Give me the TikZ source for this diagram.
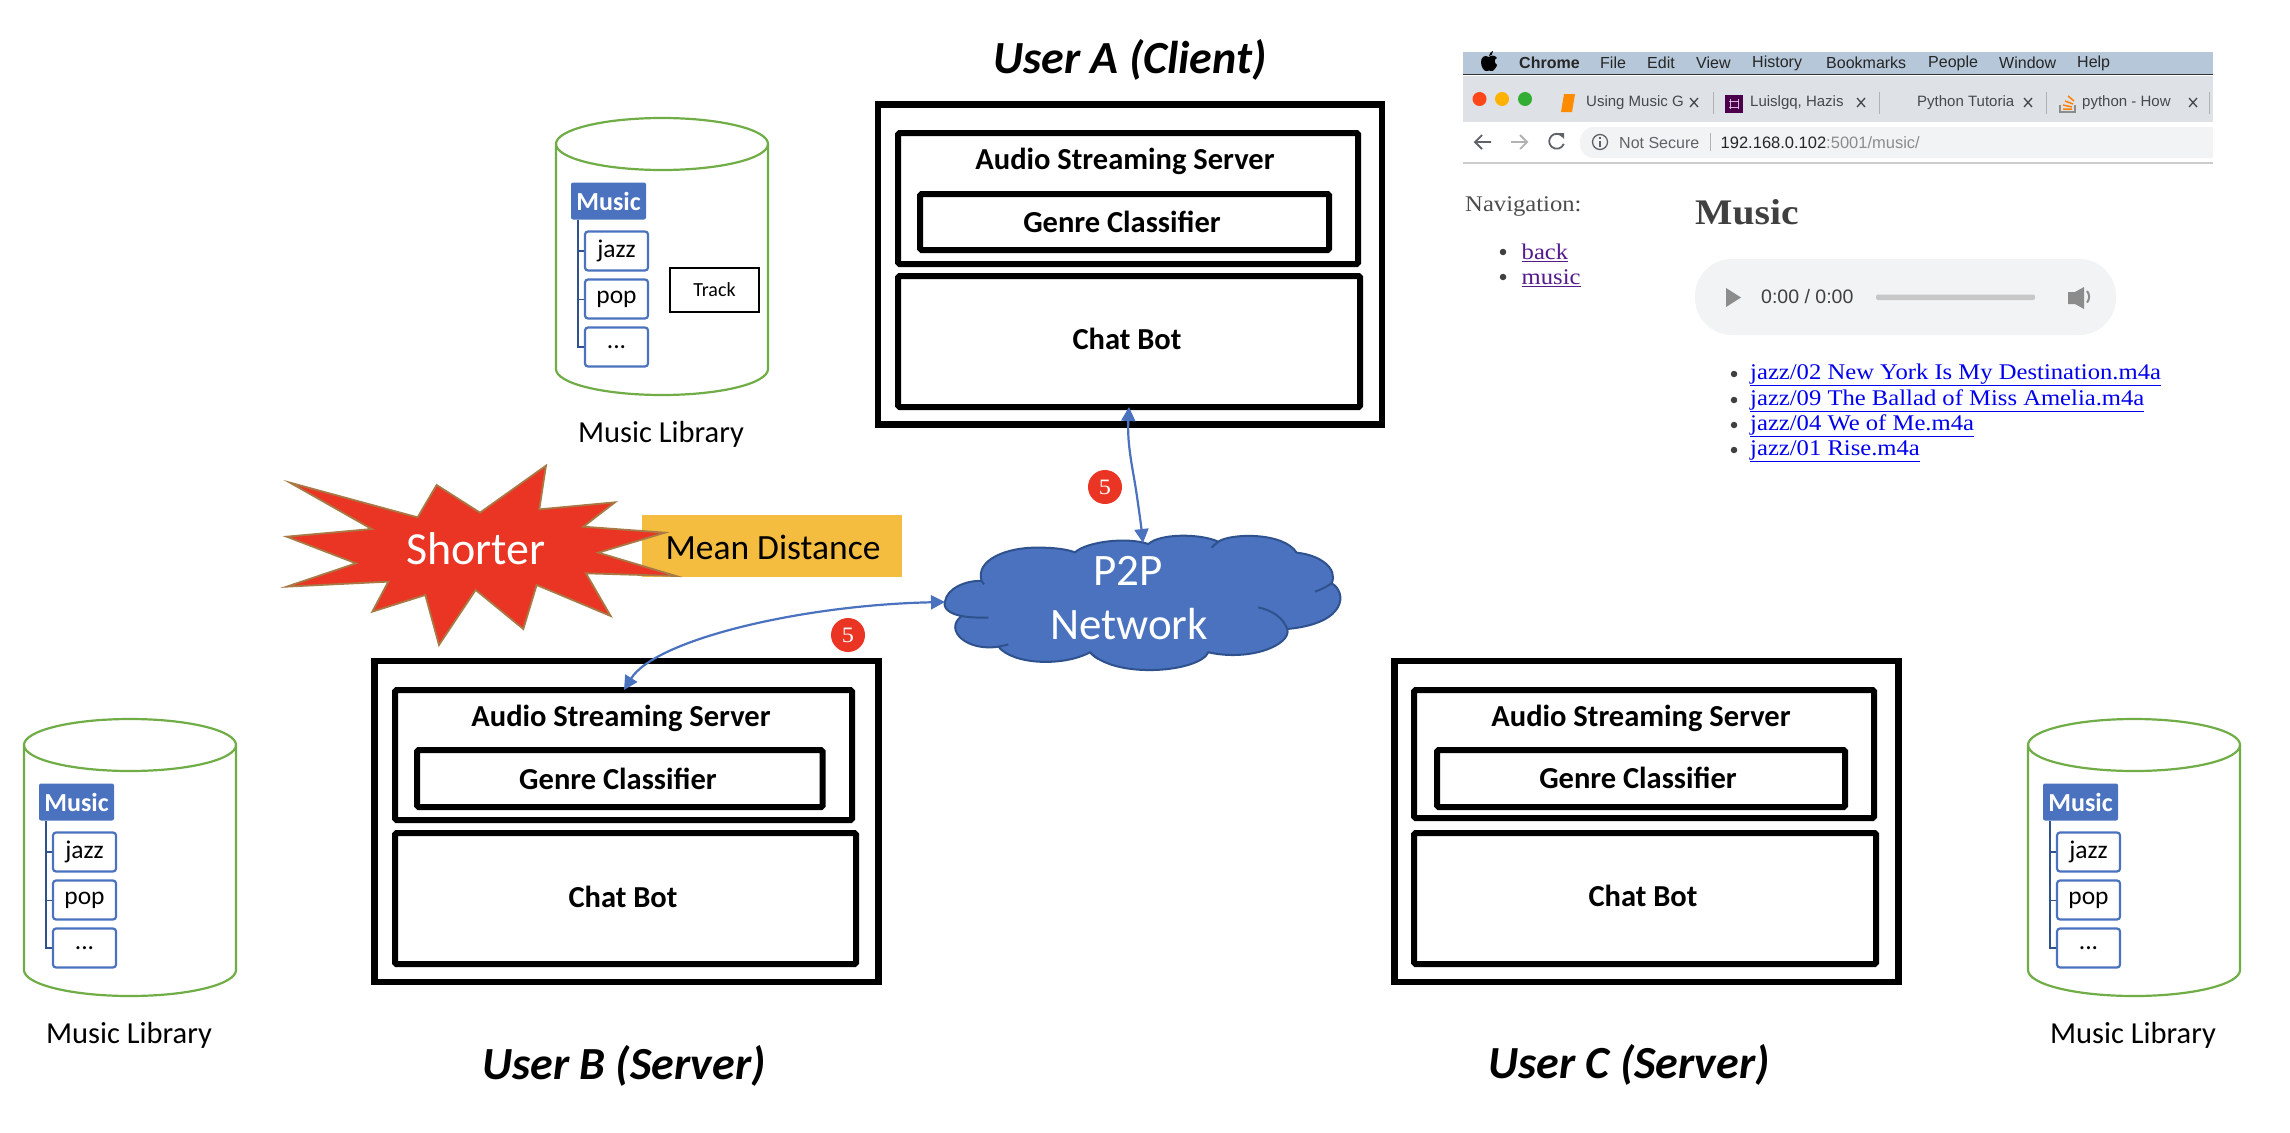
\documentclass[tikz,border=0pt]{standalone}
\usepackage{fontspec}
\setmainfont{Carlito}
\newfontfamily\ssf{Liberation Sans}
\newfontfamily\srf[FakeStretch=1.1]{Liberation Serif}
\usetikzlibrary{arrows.meta}
\newcommand{\fsz}[1]{\fontsize{#1}{#1}\selectfont}
\definecolor{ppblue}{HTML}{4A72BE}
\definecolor{ppedge}{HTML}{2F528F}
\definecolor{ppgreen}{HTML}{70AD47}
\definecolor{ppred}{HTML}{EA3524}
\definecolor{ppyellow}{HTML}{F4BD3F}
\definecolor{ppstar}{HTML}{A87845}
\definecolor{menubar}{HTML}{B5C7D8}
\definecolor{tabbar}{HTML}{DEE1E6}
\definecolor{pillgray}{HTML}{F1F3F4}
\definecolor{chromegray}{HTML}{5F6368}
\definecolor{tabtext}{HTML}{45484C}
\definecolor{visited}{HTML}{551A8B}
\definecolor{linkblue}{HTML}{0000EE}
\definecolor{ctrl}{HTML}{8C8C8C}
\tikzset{
  outerbox/.style={draw=black,line width=6.5pt,inner sep=0pt,fill=white},
  innerbox/.style={draw=black,line width=6pt,inner sep=0pt,rounded corners=1.5pt,fill=none},
  boxlabel/.style={font=\bfseries\fsz{30.5},inner sep=0pt},
  userlabel/.style={font=\bfseries\itshape\fsz{46},inner sep=0pt},
  treeitem/.style={draw=ppblue,line width=2.2pt,fill=white,rounded corners=3pt,inner sep=0pt,minimum width=63pt,minimum height=39pt,font=\fsz{25.5}},
  treeroot/.style={fill=ppblue,rounded corners=2pt,inner sep=0pt,minimum width=75pt,minimum height=37pt,text=white,font=\bfseries\fsz{26}},
  liblabel/.style={font=\fsz{30.5},inner sep=0pt},
  trunk/.style={draw=ppedge,line width=2pt},
  link/.style={draw=ppblue,line width=2.2pt,{Triangle[length=14pt,width=14pt]}-{Triangle[length=14pt,width=14pt]}},
  badge/.style={circle,fill=ppred,inner sep=0pt,minimum size=34pt,text=white,font=\srf\fsz{22}},
  menutext/.style={font=\ssf\fsz{16},inner sep=0pt,anchor=west,text=black!85},
  tabtxt/.style={font=\ssf\fsz{15},inner sep=0pt,anchor=west,text=tabtext},
  pagetext/.style={font=\srf\fsz{22.4},inner sep=0pt,anchor=west},
  closex/.style={draw=tabtext,line width=1.3pt},
  bulletdot/.style={circle,fill=black!75,inner sep=0pt,minimum size=6.5pt},
}
% style, name, x1,y1,x2,y2 (centre-line)
\newcommand{\pbox}[6]{\node[#1,minimum width={(#5-#3)*1pt},minimum height={(#6-#4)*1pt}] (#2) at ({(#3+#5)/2},{(#4+#6)/2}) {};}
\newcommand{\libcyl}[3]{%
\begin{scope}[shift={(#2,#3)}]
  \draw[ppgreen,line width=2.2pt] (0,26) -- (0,251) arc[start angle=180,end angle=360,x radius=106pt,y radius=26pt] -- (212,26);
  \draw[ppgreen,line width=2.2pt] (106,26) ellipse[x radius=106pt,y radius=26pt];
  \node[treeroot] (#1music) at (52.5,83) {Music};
  \node[treeitem] (#1jazz) at (60.5,133) {jazz};
  \node[treeitem] (#1pop) at (60.5,181) {pop};
  \node[treeitem] (#1dots) at (60.5,229) {...};
  \coordinate (#1trunk) at (22,102);
  \draw[trunk] (#1trunk) |- (#1dots.west);
  \draw[trunk] (#1trunk |- #1jazz.west) -- (#1jazz.west);
  \draw[trunk,line width=1pt] (#1trunk |- #1pop.west) -- (#1pop.west);
  \node[liblabel] (#1label) at (105,316) {Music Library};
\end{scope}}
\begin{document}
\begin{tikzpicture}[x=1pt,y=-1pt]
\useasboundingbox (0,0) rectangle (2290,1132);
\fill[white] (0,0) rectangle (2290,1132);

% ---------- User A
\node[userlabel] (ua) at (1130,60) {User A (Client)};
\pbox{outerbox}{aouter}{878}{104.5}{1382}{424.5}
\pbox{innerbox}{aaudio}{898}{133}{1358}{264}
\pbox{innerbox}{agenre}{920}{194}{1329}{250}
\pbox{innerbox}{achat}{898}{276}{1360}{407}
\node[boxlabel] (aaudiot) at (1125,161) {Audio Streaming Server};
\node[boxlabel] (agenret) at (1122,222) {Genre Classifier};
\node[boxlabel] (achatt) at (1127,339) {Chat Bot};

% ---------- User B
\node[userlabel] (ub) at (624,1066) {User B (Server)};
\pbox{outerbox}{bouter}{374.5}{661}{878.5}{982}
\pbox{innerbox}{baudio}{395}{690}{852}{820}
\pbox{innerbox}{bgenre}{417}{750}{822.5}{807}
\pbox{innerbox}{bchat}{395}{833}{856}{964}
\node[boxlabel] (baudiot) at (621,718.5) {Audio Streaming Server};
\node[boxlabel] (bgenret) at (618,779) {Genre Classifier};
\node[boxlabel] (bchatt) at (623,897) {Chat Bot};

% ---------- User C
\node[userlabel] (uc) at (1629,1065) {User C (Server)};
\pbox{outerbox}{couter}{1394.5}{661}{1898.5}{982}
\pbox{innerbox}{caudio}{1414}{690}{1874}{818}
\pbox{innerbox}{cgenre}{1437}{750}{1845}{807}
\pbox{innerbox}{cchat}{1414}{833}{1876}{964}
\node[boxlabel] (caudiot) at (1641,718) {Audio Streaming Server};
\node[boxlabel] (cgenret) at (1638,778) {Genre Classifier};
\node[boxlabel] (cchatt) at (1643,896) {Chat Bot};

% ---------- Libraries
\libcyl{top}{556}{118}
\libcyl{lft}{24}{719}
\libcyl{rgt}{2028}{719}
\node[draw=black,line width=2.2pt,minimum width=89pt,minimum height=44pt,inner sep=0pt,font=\fsz{20}] (track) at (714.5,290) {Track};

% ---------- Mean distance + star
\node[fill=ppyellow,minimum width=260pt,minimum height=62pt,inner sep=0pt] (mean) at (772,546) {};
\node[inner sep=0pt,font=\fsz{35.5}] (meant) at (773,547) {Mean Distance};
\begin{scope}[shift={(270,450)},x=.3333pt,y=-.3333pt]
\draw[fill=ppred,draw=ppstar,line width=1.8pt,line join=miter]
 (828,47)--(808,178)--(1035,157)--(940,230)--(1185,248)--(985,308)--(1218,378)--(948,370)--(1022,498)--(800,405)--(760,537)--(617,420)--(507,585)--(466,435)--(307,485)--(355,395)--(50,410)--(258,340)--(50,260)--(305,237)--(60,98)--(443,202)--(500,105)--(630,188)--cycle;
\end{scope}
\node[inner sep=0pt,text=white,font=\fsz{46}] (short) at (476,549) {Shorter};

% ---------- Cloud
\begin{scope}[shift={(930,520)},x=.3333pt,y=-.3333pt]
\draw[fill=ppblue,draw=ppedge,line width=2pt]
 (45,245) .. controls (50,205) and (110,180) .. (155,183)
 .. controls (135,120) and (230,80) .. (330,83)
 .. controls (375,83) and (410,88) .. (435,97)
 .. controls (470,65) and (590,50) .. (655,72)
 .. controls (690,40) and (810,40) .. (865,65)
 .. controls (900,40) and (1060,35) .. (1100,98)
 .. controls (1170,105) and (1225,145) .. (1205,190)
 .. controls (1250,215) and (1255,310) .. (1072,327)
 .. controls (1085,375) and (960,425) .. (835,397)
 .. controls (810,455) and (560,480) .. (480,397)
 .. controls (400,440) and (250,435) .. (205,380)
 .. controls (110,395) and (40,330) .. (95,288)
 .. controls (60,282) and (38,265) .. (45,245) -- cycle;
\draw[draw=ppedge,line width=2pt]
 (95,288) .. controls (120,293) and (150,293) .. (175,293)
 (205,380) .. controls (215,378) and (225,376) .. (235,373)
 (985,262) .. controls (1030,272) and (1060,295) .. (1072,327)
 (1155,215) .. controls (1175,208) and (1190,200) .. (1205,190)
 (845,83) .. controls (852,76) and (858,70) .. (865,65)
 (480,397) .. controls (487,405) and (495,411) .. (505,417)
 (155,183) .. controls (157,187) and (158,190) .. (162,193);
\end{scope}
\node[inner sep=0pt,text=white,font=\fsz{45}] (cloudA) at (1128,571) {P2P};
\node[inner sep=0pt,text=white,font=\fsz{45}] (cloudB) at (1129,624) {Network};
\coordinate (cloudtop) at (1143,543);
\coordinate (cloudleft) at (945,602);
\coordinate (achatbot) at (1129,407);
\coordinate (baudtop) at (624,690);

% ---------- Connectors
\draw[link] (achatbot) .. controls (1127,445) and (1133,470) .. (1136,490) .. controls (1139,510) and (1141,525) .. (cloudtop);
\draw[link] (baudtop) .. controls (655,640) and (800,605) .. (cloudleft);
\node[badge] (b5a) at (1105,487) {5};
\node[badge] (b5b) at (848,635) {5};

% ---------- Browser screenshot
\fill[menubar] (1463,52) rectangle (2213,74);
\draw[black!80,line width=1.2pt] (1463,74.5) -- (2213,74.5);
\fill[tabbar] (1463,76) rectangle (2213,122);
\fill[black] (1489,57) .. controls (1484,54) and (1481,58) .. (1481,62) .. controls (1481,67) and (1484,71) .. (1486,71) .. controls (1488,71) and (1490,70) .. (1492,71) .. controls (1494,71) and (1497,66) .. (1497,65) .. controls (1494,63) and (1494,59) .. (1497,58) .. controls (1495,55) and (1491,55) .. cycle;
\fill[black] (1489,56) .. controls (1489,53) and (1491,52) .. (1493,51) .. controls (1493,54) and (1491,56) .. (1489,56) -- cycle;
\node[menutext,font=\ssf\bfseries\fsz{16}] (mchrome) at (1519,63) {Chrome};
\node[menutext] (mfile) at (1600,63) {File};
\node[menutext] (medit) at (1647,63) {Edit};
\node[menutext] (mview) at (1696,63) {View};
\node[menutext] (mhist) at (1752,63) {History};
\node[menutext] (mbook) at (1826,63) {Bookmarks};
\node[menutext] (mpeop) at (1928,63) {People};
\node[menutext] (mwind) at (1999,63) {Window};
\node[menutext] (mhelp) at (2077,63) {Help};
% traffic lights
\fill[red!60!orange!90] (1479.5,99) circle[radius=7pt];
\fill[orange!60!yellow] (1502,99) circle[radius=7pt];
\fill[green!60!black!80!white] (1525,99) circle[radius=7pt];
% tabs
\fill[orange!90!yellow] (1564,94) -- (1575,94) -- (1572,112) -- (1561,112) -- cycle;
\node[tabtxt] (tab1) at (1586,103) {Using Music G};
\draw[closex] (1690,98)--(1698,107) (1698,98)--(1690,107);
\draw[black!30,line width=1pt] (1713,92)--(1713,114);
\fill[violet!60!black] (1725,95) rectangle (1743,113);
\draw[white!70!violet,line width=1pt] (1730,99)--(1730,109) (1738,99)--(1738,109) (1729,101)--(1739,101) (1729,107)--(1739,107);
\node[tabtxt] (tab2) at (1750,103) {Luislgq, Hazis};
\draw[closex] (1857,98)--(1865,107) (1865,98)--(1857,107);
\draw[black!30,line width=1pt] (1879,92)--(1879,114);
\node[tabtxt] (tab3) at (1917,103) {Python Tutoria};
\draw[closex] (2024,98)--(2032,107) (2032,98)--(2024,107);
\draw[black!30,line width=1pt] (2046,92)--(2046,114);
\draw[black!45,line width=1.2pt] (2060,105)--(2060,112)--(2075,112)--(2075,105);
\draw[orange,line width=1.5pt] (2063,109)--(2072,109) (2063,105)--(2072,107) (2065,101)--(2073,104) (2068,96)--(2074,101);
\node[tabtxt] (tab4) at (2082,103) {python - How};
\draw[closex] (2189,98)--(2197,107) (2197,98)--(2189,107);
\draw[black!30,line width=1pt] (2209,92)--(2209,114);
% toolbar
\fill[pillgray,rounded corners=14pt] (1580,127) rectangle (2240,158);
\fill[white] (2213,122) rectangle (2245,165);
\draw[black!20,line width=1.2pt] (1463,163) -- (2213,163);
\draw[chromegray,line width=1.8pt] (1475,142)--(1491,142) (1482,135)--(1475,142)--(1482,149);
\draw[black!30,line width=1.8pt] (1511,142)--(1527,142) (1520,135)--(1527,142)--(1520,149);
\draw[chromegray,line width=1.8pt] (1562,136) arc[start angle=45,end angle=340,radius=7.5pt];
\fill[chromegray] (1558,133)--(1564,133)--(1564,139)--cycle;
\draw[chromegray,line width=1.3pt] (1600,142) circle[radius=7.5pt];
\draw[chromegray,line width=1.6pt] (1600,141)--(1600,147) (1600,137)--(1600,138.5);
\node[menutext,text=chromegray] (insec) at (1619,143) {Not Secure};
\draw[black!30,line width=1pt] (1710,133)--(1710,151);
\node[menutext,font=\ssf\fsz{16.5}] (url) at (1720.5,143) {\textcolor{black!85}{192.168.0.102}\textcolor{black!45}{:5001/music/}};
% page
\node[pagetext,text=black!70] (nav) at (1465,206) {Navigation:};
\node[pagetext,text=black!75,font=\srf\bfseries\fsz{36}] (mus) at (1695,212) {Music};
\node[bulletdot] (nb1) at (1503,252) {};
\node[bulletdot] (nb2) at (1503,277) {};
\node[pagetext,text=visited] (nback) at (1521.5,253) {\underline{back}};
\node[pagetext,text=visited] (nmus) at (1521.5,278) {\underline{music}};
\fill[pillgray,rounded corners=37pt] (1695,259) rectangle (2116,335);
\fill[ctrl] (1726,288)--(1741,297.5)--(1726,307)--cycle;
\node[menutext,font=\ssf\fsz{19.5},text=black!75] (time) at (1761,297) {0:00 / 0:00};
\fill[black!22,rounded corners=2pt] (1876,294.5) rectangle (2035,300);
\fill[ctrl] (2068,292)--(2075,292)--(2084,287)--(2084,309)--(2075,304)--(2068,304)--cycle;
\draw[ctrl,line width=2pt] (2087,291) arc[start angle=40,end angle=-40,radius=9pt];
\node[bulletdot] (lb1) at (1734,374) {};
\node[bulletdot] (lb2) at (1734,400) {};
\node[bulletdot] (lb3) at (1734,425) {};
\node[bulletdot] (lb4) at (1734,450) {};
\node[pagetext,text=linkblue] (l1) at (1750,375) {\underline{jazz/02 New York Is My Destination.m4a}};
\node[pagetext,text=linkblue] (l2) at (1750,401) {\underline{jazz/09 The Ballad of Miss Amelia.m4a}};
\node[pagetext,text=linkblue] (l3) at (1750,426) {\underline{jazz/04 We of Me.m4a}};
\node[pagetext,text=linkblue] (l4) at (1750,451) {\underline{jazz/01 Rise.m4a}};
\end{tikzpicture}
\end{document}
